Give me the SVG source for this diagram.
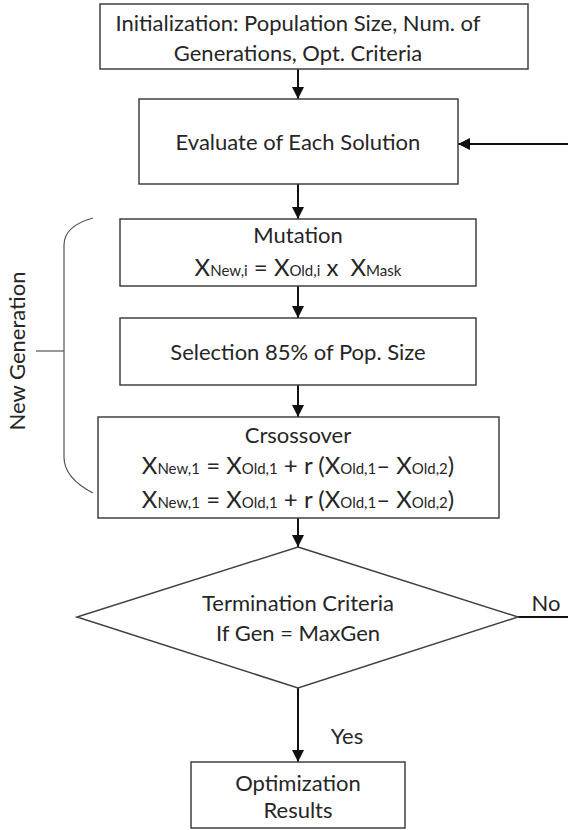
<svg xmlns="http://www.w3.org/2000/svg" width="568" height="830" viewBox="0 0 568 830">
  <style>
    .box { fill: #ffffff; stroke: #404040; stroke-width: 1.5; }
    .t { font-family: Lato, "Liberation Sans", sans-serif; font-size: 22px; fill: #262626; text-anchor: middle; }
    .f { font-family: Lato, "Liberation Sans", sans-serif; font-size: 24px; fill: #262626; text-anchor: middle; }
    .s { font-size: 15px; }
    .conn { stroke: #111111; stroke-width: 2; fill: none; }
    .br { stroke: #555555; stroke-width: 1.2; fill: none; }
  </style>
  <defs>
    <marker id="ah" markerUnits="userSpaceOnUse" markerWidth="12" markerHeight="12" refX="12" refY="6" orient="auto">
      <path d="M0,0 L12,6 L0,12 z" fill="#111111"/>
    </marker>
  </defs>

  <rect width="568" height="830" fill="#ffffff"/>

  <g id="connectors">
    <line class="conn" x1="298" y1="69" x2="298" y2="99" marker-end="url(#ah)"/>
    <line class="conn" x1="298" y1="184" x2="298" y2="219" marker-end="url(#ah)"/>
    <line class="conn" x1="298" y1="286" x2="298" y2="318" marker-end="url(#ah)"/>
    <line class="conn" x1="298" y1="385" x2="298" y2="417" marker-end="url(#ah)"/>
    <line class="conn" x1="298" y1="518" x2="298" y2="547" marker-end="url(#ah)"/>
    <line class="conn" x1="298" y1="688" x2="298" y2="762" marker-end="url(#ah)"/>
    <line class="conn" x1="518" y1="617" x2="568" y2="617"/>
    <line class="conn" x1="568" y1="144" x2="458" y2="144" marker-end="url(#ah)"/>
    <text class="t" x="546" y="611">No</text>
    <text class="t" x="347" y="744">Yes</text>
  </g>

  <g id="init">
    <rect class="box" x="100" y="4" width="428" height="65"/>
    <text class="t" x="298" y="31">Initialization: Population Size, Num. of</text>
    <text class="t" x="298" y="61">Generations, Opt. Criteria</text>
  </g>

  <g id="evaluate">
    <rect class="box" x="139" y="99" width="319" height="85"/>
    <text class="t" x="298" y="150">Evaluate of Each Solution</text>
  </g>

  <g id="mutation">
    <rect class="box" x="120" y="219" width="356" height="67"/>
    <text class="t" x="298" y="243">Mutation</text>
    <text class="f" x="298" y="276">X<tspan class="s">New,i</tspan> = X<tspan class="s">Old,i</tspan> x <tspan dx="6">X</tspan><tspan class="s">Mask</tspan></text>
  </g>

  <g id="selection">
    <rect class="box" x="120" y="318" width="356" height="67"/>
    <text class="t" x="298" y="360">Selection 85% of Pop. Size</text>
  </g>

  <g id="crossover">
    <rect class="box" x="98" y="417" width="401" height="101"/>
    <text class="t" x="298" y="443">Crsossover</text>
    <text class="f" x="298" y="474">X<tspan class="s">New,1</tspan> = X<tspan class="s">Old,1</tspan> + r (X<tspan class="s">Old,1</tspan>– X<tspan class="s">Old,2</tspan>)</text>
    <text class="f" x="298" y="508">X<tspan class="s">New,1</tspan> = X<tspan class="s">Old,1</tspan> + r (X<tspan class="s">Old,1</tspan>– X<tspan class="s">Old,2</tspan>)</text>
  </g>

  <g id="termination">
    <polygon class="box" points="298,547 518,617 298,688 77,617"/>
    <text class="t" x="298" y="611">Termination Criteria</text>
    <text class="t" x="298" y="641">If Gen = MaxGen</text>
  </g>

  <g id="results">
    <rect class="box" x="191" y="762" width="214" height="66"/>
    <text class="t" x="298" y="791">Optimization</text>
    <text class="t" x="298" y="818">Results</text>
  </g>

  <g id="new-generation">
    <path class="br" d="M93,218 Q64,226 64,245 L64,457 Q64,478 93,493"/>
    <line class="br" x1="36" y1="351" x2="64" y2="351"/>
    <text class="t" x="0" y="0" transform="translate(25,351) rotate(-90)">New Generation</text>
  </g>
</svg>
